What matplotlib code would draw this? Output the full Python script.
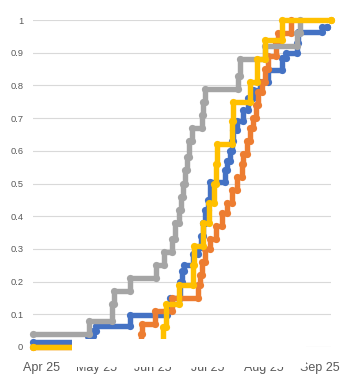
import matplotlib
matplotlib.use("Agg")
import matplotlib.dates as mdates
import matplotlib.pyplot as plt
import numpy as np
from matplotlib.patches import Rectangle

START = "2025-04-01"

# days after START, cumulative share
blue_days = [-5.0, 25.3, 28.1, 29.7, 48.4, 68.8, 70.4, 75.9, 77.0, 78.1, 83.1,
             85.9, 87.5, 88.6, 89.7, 91.4, 92.5, 100.7, 101.8, 103.5, 104.6,
             105.1, 107.3, 110.6, 113.4, 116.1, 120.0, 124.4, 132.1, 134.3,
             140.3, 140.9, 154.1, 156.9]
blue_vals = [0.016, 0.035, 0.05, 0.064, 0.098, 0.128, 0.15, 0.2, 0.232, 0.25,
             0.285, 0.306, 0.34, 0.38, 0.42, 0.45, 0.505, 0.54, 0.57, 0.6, 0.63,
             0.663, 0.69, 0.725, 0.76, 0.786, 0.81, 0.847, 0.885, 0.9, 0.93,
             0.963, 0.98, 0.98]

orange_days = [-5.0, 54.5, 55.0, 62.2, 71.5, 85.9, 87.0, 88.1, 89.7, 92.5, 95.8,
               99.1, 101.8, 104.6, 107.3, 110.1, 110.6, 112.8, 114.5, 116.1,
               117.8, 118.9, 121.1, 122.7, 124.4, 128.8, 129.9, 137.0]
orange_vals = [0, 0.04, 0.07, 0.11, 0.15, 0.19, 0.22, 0.26, 0.30, 0.33, 0.37,
               0.41, 0.44, 0.48, 0.52, 0.56, 0.59, 0.63, 0.67, 0.70, 0.74, 0.78,
               0.81, 0.85, 0.89, 0.93, 0.96, 1.0]

gray_days = [-5.0, 25.9, 38.5, 39.6, 48.4, 62.7, 67.1, 71.5, 73.2, 75.4, 76.5,
             77.6, 78.7, 79.8, 80.9, 82.6, 88.1, 88.6, 89.7, 107.9, 109.0,
             122.7, 140.3, 142.0]
gray_vals = [0.04, 0.08, 0.13, 0.17, 0.21, 0.25, 0.29, 0.33, 0.38, 0.42, 0.46,
             0.50, 0.54, 0.58, 0.63, 0.67, 0.71, 0.75, 0.79, 0.83, 0.88, 0.92,
             0.96, 1.0]

yellow_days = [-5.0, 66.6, 68.2, 75.4, 83.1, 83.7, 88.6, 91.9, 94.7, 95.8, 96.3,
               104.6, 105.1, 114.5, 118.3, 122.7, 132.1, 159.0]
yellow_vals = [0, 0.06, 0.13, 0.19, 0.25, 0.31, 0.38, 0.44, 0.50, 0.56, 0.62,
               0.69, 0.75, 0.81, 0.88, 0.94, 1.0, 1.0]

y_ticks = [0, 0.1, 0.2, 0.3, 0.4, 0.5, 0.6, 0.7, 0.8, 0.9, 1.0]
y_labels = ["0", "0.1", "0.2", "0.3", "0.4", "0.5", "0.6", "0.7", "0.8", "0.9", "1"]

W, H = 340, 376
base = mdates.datestr2num(START)


def draw_step(ax, days, vals, color):
    x = base + np.asarray(days)
    y = np.asarray(vals)
    ax.plot(x, y, drawstyle="steps-post", color=color, lw=3.9,
            solid_capstyle="round", solid_joinstyle="round", clip_on=False)
    # markers on both corners of each step
    mx = np.concatenate([x, x[1:]])
    my = np.concatenate([y, y[:-1]])
    ax.plot(mx, my, ls="none", marker="o", ms=5.2, mew=0, color=color,
            clip_on=False)


fig = plt.figure(figsize=(W / 100, H / 100), dpi=100)
ax = fig.add_axes([33 / W, (H - 347) / H, 298 / W, 327 / H])

draw_step(ax, blue_days, blue_vals, "#4472C4")
draw_step(ax, orange_days, orange_vals, "#ED7D31")
draw_step(ax, gray_days, gray_vals, "#A5A5A5")
draw_step(ax, yellow_days, yellow_vals, "#FFC000")

ax.set_xlim(base - 4.95, base + 159.05)
ax.set_ylim(0, 1)
ax.set_yticks(y_ticks)
ax.set_yticklabels(y_labels)
ax.xaxis.set_major_locator(mdates.MonthLocator())
ax.xaxis.set_major_formatter(mdates.DateFormatter("%b %y"))
ax.grid(axis="y", color="#D9D9D9", lw=0.8)
ax.set_axisbelow(True)
for side in ax.spines.values():
    side.set_visible(False)
ax.tick_params(axis="both", length=0, colors="#595959")
ax.tick_params(axis="y", pad=7, labelsize=6.7)
ax.tick_params(axis="x", pad=11, labelsize=9)
for lab in ax.get_xticklabels() + ax.get_yticklabels():
    lab.set_fontfamily("Liberation Sans")

# white patch over the bottom of the plot, as in the original
fig.add_artist(Rectangle((72 / W, (H - 366.5) / H), 234 / W, 27.5 / H,
                         transform=fig.transFigure, facecolor="white",
                         edgecolor="none", zorder=10))

fig.savefig("out.png", dpi=100)
